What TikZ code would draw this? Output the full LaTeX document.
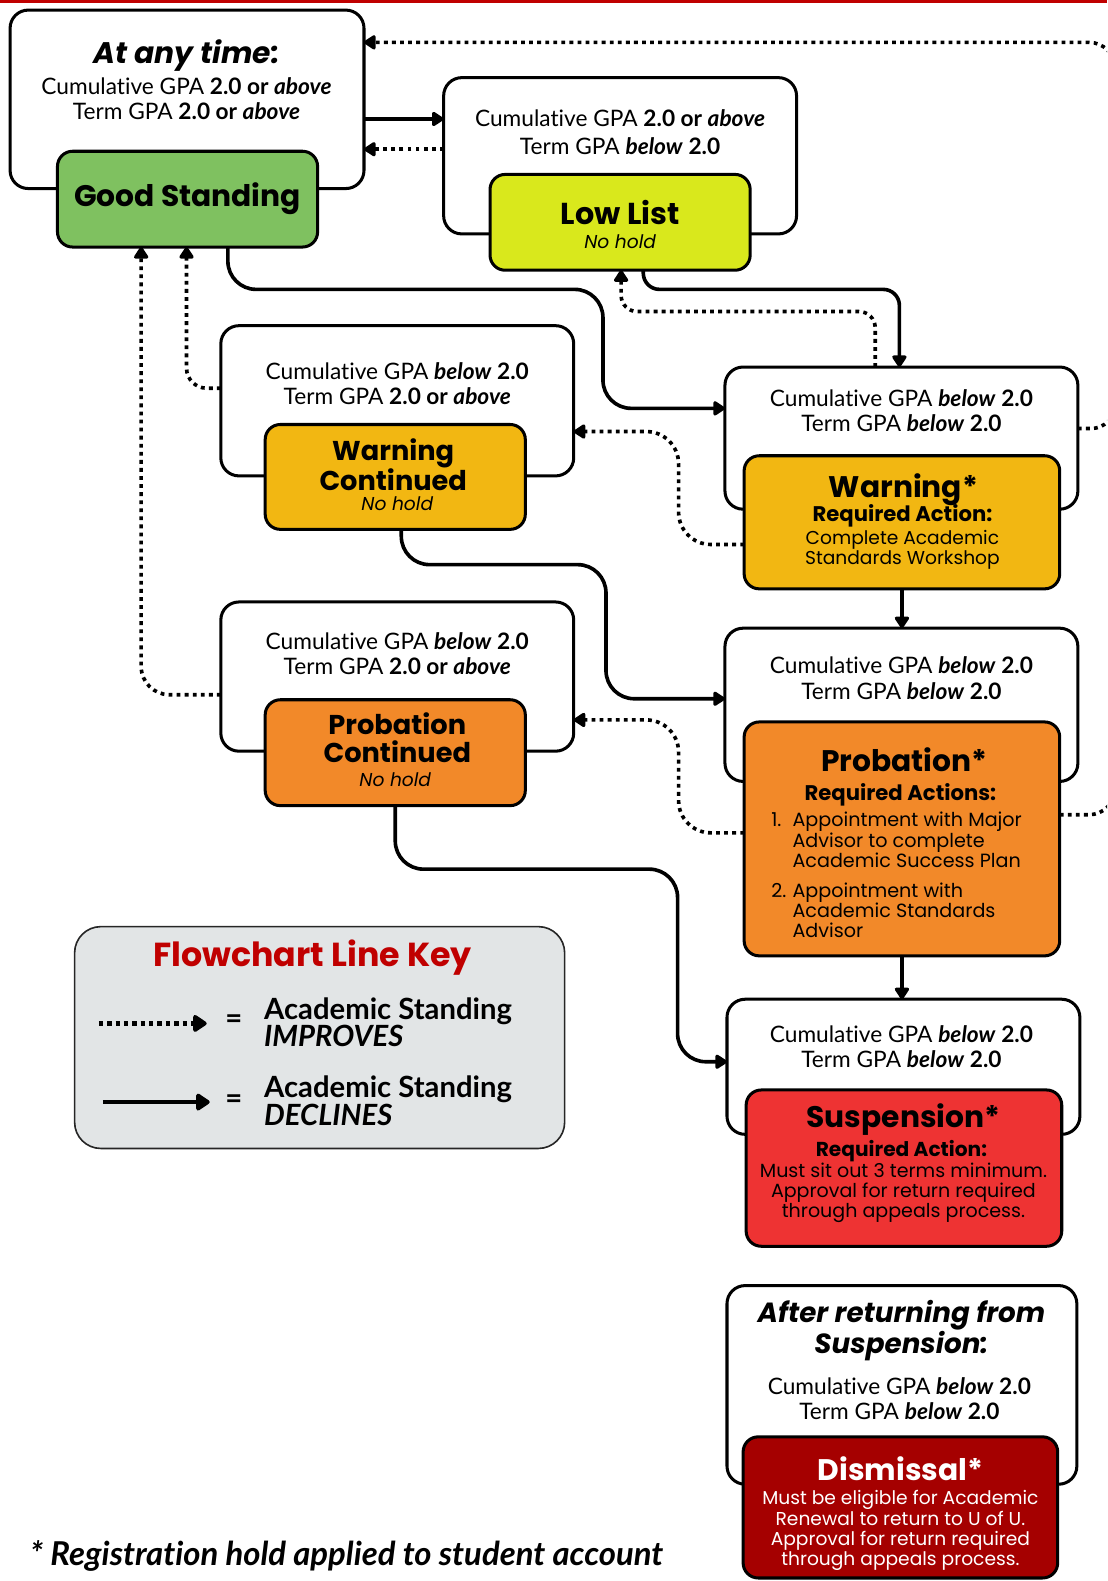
\documentclass[tikz,border=0pt]{standalone}
\usepackage{fontspec}
\setmainfont[Ligatures=NoCommon]{Lato}
\newfontfamily\mont{Poppins}
\usetikzlibrary{arrows.meta,calc}
\definecolor{gsgreen}{RGB}{127,193,96}
\definecolor{lowyel}{RGB}{217,232,28}
\definecolor{warngold}{RGB}{242,183,18}
\definecolor{proborange}{RGB}{242,137,41}
\definecolor{susred}{RGB}{238,51,51}
\definecolor{disred}{RGB}{165,0,0}
\definecolor{keygray}{RGB}{226,229,230}
\definecolor{keyred}{RGB}{192,0,0}
\newcommand\fsz[2]{\fontsize{#1}{#2}\selectfont}
\begin{document}
\begin{tikzpicture}[x=1pt,y=-1pt,
  outerbox/.style={draw, line width=3pt, rounded corners=18pt, fill=white, inner sep=0pt, outer sep=0pt, anchor=north west},
  innerbox/.style={draw, line width=3pt, rounded corners=15pt, inner sep=0pt, outer sep=0pt, anchor=north west},
  keybox/.style={draw=black!85, line width=1.6pt, rounded corners=26pt, fill=keygray, inner sep=0pt, outer sep=0pt, anchor=north west},
  txt/.style={inner sep=0pt, outer sep=0pt, align=center, text=black},
  ltxt/.style={inner sep=0pt, outer sep=0pt, align=left, anchor=west, text=black},
  body/.style={font=\fsz{22.5}{25}},
  conn/.style={line width=3.6pt, rounded corners=28pt, -{Triangle[round, length=13pt, width=16pt]}},
  dotconn/.style={conn, dash pattern=on 3.8pt off 4.2pt},
  keyconn/.style={line width=4.6pt, -{Triangle[round, length=15pt, width=19pt]}},
  keydot/.style={keyconn, dash pattern=on 4.4pt off 3.9pt}
]
\useasboundingbox (0,0) rectangle (1098,1568);
\clip (0,0) rectangle (1098,1568);
\fill[keyred] (0,0) rectangle (1098,2.5);

% outer boxes
\node[outerbox, minimum width=351pt, minimum height=177pt] (A) at (10,10) {};
\node[outerbox, minimum width=350pt, minimum height=155pt] (B) at (440,77) {};
\node[outerbox, minimum width=350pt, minimum height=149pt] (C) at (219,323) {};
\node[outerbox, minimum width=350pt, minimum height=141pt] (D) at (719,364) {};
\node[outerbox, minimum width=350pt, minimum height=148pt] (E) at (219,597) {};
\node[outerbox, minimum width=350pt, minimum height=152pt] (F) at (719,623) {};
\node[outerbox, minimum width=350pt, minimum height=134pt] (G) at (721,991) {};
\node[outerbox, minimum width=347pt, minimum height=197pt] (H) at (721,1275) {};
% inner boxes
\node[innerbox, fill=gsgreen, minimum width=258pt, minimum height=95pt] (GS) at (57,150) {};
\node[innerbox, fill=lowyel, minimum width=258pt, minimum height=95pt] (LL) at (486,173) {};
\node[innerbox, fill=warngold, minimum width=258pt, minimum height=104pt] (WC) at (263,421) {};
\node[innerbox, fill=warngold, minimum width=313pt, minimum height=132pt] (W) at (738,452) {};
\node[innerbox, fill=proborange, minimum width=258pt, minimum height=105pt] (PC) at (263,694) {};
\node[innerbox, fill=proborange, minimum width=313pt, minimum height=232pt] (P) at (738,716) {};
\node[innerbox, fill=susred, minimum width=313pt, minimum height=155pt] (S) at (740,1081) {};
\node[innerbox, fill=disred, minimum width=312pt, minimum height=140pt] (DM) at (737,1425) {};
% key box
\node[keybox, minimum width=486pt, minimum height=220pt] (K) at (74,919) {};

% texts: top-left
\node[txt, font=\mont\bfseries\itshape\fsz{29.5}{30}] (tA1) at (185,55) {At any time:};
\node[txt, body] (tA2) at (185,97.5) {Cumulative GPA \textbf{2.0 or \textit{above}}\\Term GPA \textbf{2.0 or \textit{above}}};
\node[txt, font=\mont\bfseries\fsz{29.5}{30}] (tGS) at (186,197) {Good Standing};
% low list
\node[txt, font=\fsz{22.5}{28}] (tB) at (615,131) {Cumulative GPA \textbf{2.0 or \textit{above}}\\Term GPA \textbf{\textit{below} 2.0}};
\node[txt, font=\mont\bfseries\fsz{30}{30}] (tLL1) at (615,211) {Low List};
\node[txt, font=\mont\itshape\fsz{18.5}{20}] (tLL2) at (615,240) {No hold};
% warning continued
\node[txt, body] (tC) at (394,380.5) {Cumulative GPA \textbf{\textit{below} 2.0}\\Term GPA \textbf{2.0 or \textit{above}}};
\node[txt, font=\mont\bfseries\fsz{27}{28}] (tWC1) at (390,461) {Warning\\Continued};
\node[txt, font=\mont\itshape\fsz{18.5}{20}] (tWC2) at (394,500) {No hold};
% warning
\node[txt, body] (tD) at (894,407.5) {Cumulative GPA \textbf{\textit{below} 2.0}\\Term GPA \textbf{\textit{below} 2.0}};
\node[txt, font=\mont\bfseries\fsz{29.5}{30}] (tW1) at (896,486) {Warning*};
\node[txt, font=\mont\bfseries\fsz{21}{20}] (tW2) at (895,512) {Required Action:};
\node[txt, font=\mont\fsz{18.5}{20}] (tW3) at (895,545) {Complete Academic\\Standards Workshop};
% probation continued
\node[txt, body] (tE) at (394,648.5) {Cumulative GPA \textbf{\textit{below} 2.0}\\Term GPA \textbf{2.0 or \textit{above}}};
\node[txt, font=\mont\bfseries\fsz{27}{28}] (tPC1) at (394,732) {Probation\\Continued};
\node[txt, font=\mont\itshape\fsz{18.5}{20}] (tPC2) at (392,773) {No hold};
% probation
\node[txt, body] (tF) at (894,672.5) {Cumulative GPA \textbf{\textit{below} 2.0}\\Term GPA \textbf{\textit{below} 2.0}};
\node[txt, font=\mont\bfseries\fsz{29.5}{30}] (tP1) at (897,753) {Probation*};
\node[txt, font=\mont\bfseries\fsz{21}{20}] (tP2) at (893,788) {Required Actions:};
\node[ltxt, font=\mont\fsz{19}{20}] (tP3n) at (765,813) {1.};
\node[ltxt, font=\mont\fsz{19}{20}] (tP3) at (786,833) {Appointment with Major\\Advisor to complete\\Academic Success Plan};
\node[ltxt, font=\mont\fsz{19}{20}] (tP4n) at (765,883) {2.};
\node[ltxt, font=\mont\fsz{19}{20}] (tP4) at (786,903) {Appointment with\\Academic Standards\\Advisor};
% suspension
\node[txt, body] (tG) at (894,1038) {Cumulative GPA \textbf{\textit{below} 2.0}\\Term GPA \textbf{\textit{below} 2.0}};
\node[txt, font=\mont\bfseries\fsz{29.5}{30}] (tS1) at (896,1110) {Suspension*};
\node[txt, font=\mont\bfseries\fsz{20}{20}] (tS2) at (894,1142) {Required Action:};
\node[txt, font=\mont\fsz{18.9}{20}] (tS3) at (896,1183) {Must sit out 3 terms minimum.\\Approval for return required\\through appeals process.};
% dismissal
\node[txt, font=\mont\bfseries\itshape\fsz{27.5}{29}] (tH1) at (894,1319.5) {After returning from\\Suspension:};
\node[txt, body] (tH2) at (892,1387.5) {Cumulative GPA \textbf{\textit{below} 2.0}\\Term GPA \textbf{\textit{below} 2.0}};
\node[txt, text=white, font=\mont\bfseries\fsz{29.5}{30}] (tDM1) at (893,1457) {Dismissal*};
\node[txt, text=white, font=\mont\fsz{18.5}{20}] (tDM2) at (893,1518) {Must be eligible for Academic\\Renewal to return to U of U.\\Approval for return required\\through appeals process.};
% key
\node[txt, text=keyred, font=\mont\bfseries\fsz{33}{30}] (tK) at (310,950) {Flowchart Line Key};
\node[txt, font=\bfseries\fsz{29}{26}] (tKe1) at (232,1013) {=};
\node[ltxt, font=\bfseries\fsz{29}{26}] (tK1) at (262,1014) {Academic Standing\\\textit{IMPROVES}};
\node[txt, font=\bfseries\fsz{29}{26}] (tKe2) at (232,1093) {=};
\node[ltxt, font=\bfseries\fsz{29}{26}] (tK2) at (262,1091.5) {Academic Standing\\\textit{DECLINES}};
\coordinate (k1a) at (98,1015);
\coordinate (k1b) at (205,1015);
\coordinate (k2a) at (102,1093);
\coordinate (k2b) at (208,1093);
\draw[keydot] (k1a) -- (k1b);
\draw[keyconn] (k2a) -- (k2b);
% footnote
\node[ltxt, font=\bfseries\itshape\fsz{32.6}{30}] (tFoot) at (30,1543) {* Registration hold applied to student account};

% connectors
\draw[conn] ($(A.north east)+(0,108)$) -- ($(B.north west)+(0,41)$);
\draw[dotconn] ($(B.north west)+(0,71)$) -- ($(A.north east)+(0,138)$);
\draw[conn] ($(GS.south west)+(169,0)$) -- (226,287) -- (598,287) -- (598,405) -- ($(D.north west)+(0,41)$);
\draw[conn, rounded corners=16pt] ($(LL.south west)+(152,0)$) -- (638,287) -- (892,287) -- ($(D.north west)+(173,0)$);
\draw[dotconn, rounded corners=16pt] ($(D.north west)+(149,0)$) -- (868,309) -- (616,309) -- ($(LL.south west)+(130,0)$);
\draw[dotconn, rounded corners=20pt] ($(C.north west)+(0,62)$) -- (185,385) -- ($(GS.south west)+(128,0)$);
\draw[dotconn] ($(E.north west)+(0,92)$) -- (140,689) -- ($(GS.south west)+(83,0)$);
\draw[dotconn, rounded corners=32pt] ($(W.north west)+(0,88)$) -- (673,540) -- (673,428) -- ($(C.north east)+(0,105)$);
\draw[conn] ($(WC.south west)+(135,0)$) -- (398,560) -- (601,560) -- (601,693) -- ($(F.north west)+(0,70)$);
\draw[conn] (W.south) -- (W.south |- F.north);
\draw[dotconn, rounded corners=32pt] ($(P.north west)+(0,110)$) -- (673,826) -- (673,714) -- ($(E.north east)+(0,117)$);
\draw[conn] ($(PC.south west)+(129,0)$) -- (392,862) -- (672,862) -- (672,1053) -- ($(G.north west)+(0,62)$);
\draw[conn] (P.south) -- (P.south |- G.north);
\draw[dotconn, rounded corners=26pt] ($(P.north east)+(0,92)$) -- (1106,808) -- (1106,42) -- ($(A.north east)+(0,32)$);
\draw[dotconn, rounded corners=24pt, -] ($(D.north east)+(0,61)$) -- (1106,425) -- (1106,300);
\end{tikzpicture}
\end{document}
